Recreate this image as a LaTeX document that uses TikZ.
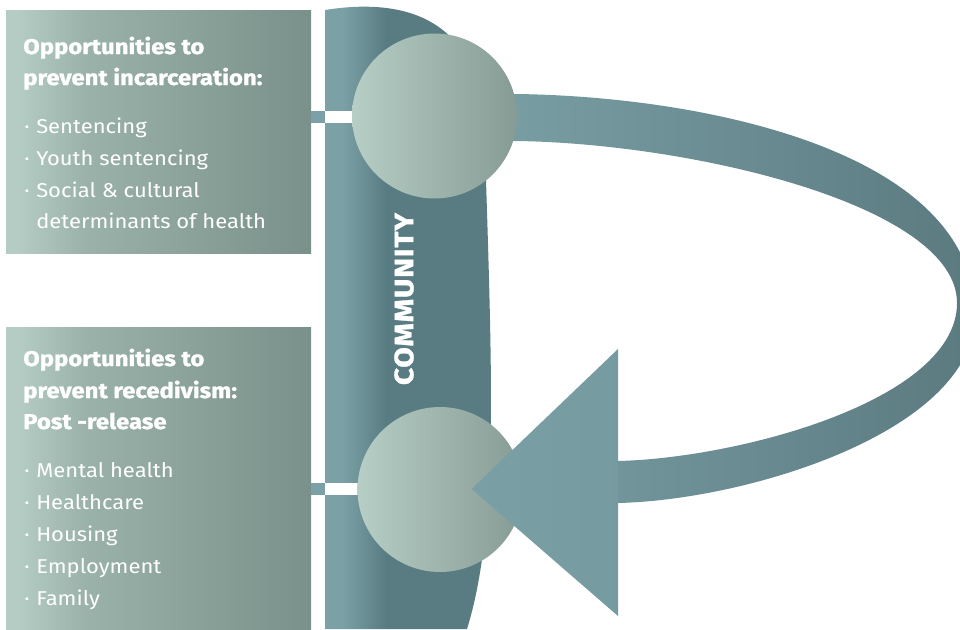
\documentclass[tikz,border=0pt]{standalone}
\usepackage{fontspec}
\setmainfont{Fira Sans}
\newfontfamily\lightfont{Fira Sans}[FakeStretch=1.1]
\newfontfamily\heavyfont{Fira Sans}[FakeStretch=1.12, BoldFeatures={FakeBold=1.2}]
\definecolor{boxL}{HTML}{B4CCC3}
\definecolor{boxM}{HTML}{9AB2AA}
\definecolor{boxD}{HTML}{7A908A}
\definecolor{barL}{HTML}{7BA1A7}
\definecolor{barD}{HTML}{587C82}
\definecolor{circL}{HTML}{B6CEC5}
\definecolor{circD}{HTML}{869B94}
\definecolor{bandL}{HTML}{7AA0A6}
\definecolor{bandD}{HTML}{5B7A80}
\pgfdeclarehorizontalshading{boxshade}{100bp}{color(0bp)=(boxL); color(27bp)=(boxL); color(38bp)=(boxM); color(75bp)=(boxD); color(100bp)=(boxD)}
\pgfdeclarehorizontalshading{barshade}{100bp}{color(0bp)=(barL); color(30bp)=(barL); color(43bp)=(barD); color(100bp)=(barD)}
\newcommand\itemdot{\makebox[9pt][l]{·}}
\tikzset{
  panel/.style={shading=boxshade, draw=none},
  disc/.style={circle, minimum size=123.75pt, inner sep=0pt, left color=circL, right color=circD, draw=none},
  head/.style={text=white, font=\heavyfont\bfseries\fontsize{16}{19}\selectfont, anchor=base west, inner sep=0pt},
  itemtxt/.style={text=white, font=\lightfont\fontsize{15}{18}\selectfont, anchor=base west, inner sep=0pt},
  gapteal/.style={fill=barL, draw=none},
  gapwhite/.style={fill=white, draw=none},
}
\begin{document}
\begin{tikzpicture}[x=0.75pt, y=-0.75pt]
\useasboundingbox (0,0) rectangle (960,629);
\fill[white] (0,0) rectangle (960,629);
% panels
\shade[panel] (6,10) rectangle (311,253);
\shade[panel] (6,327) rectangle (311,629);
% community bar
\shade[shading=barshade] (325,629) -- (325,10) .. controls (400,-2) and (475,15) .. (484,120)
  .. controls (490,300) and (494,420) .. (488,500) .. controls (484,560) and (476,600) .. (467,629) -- cycle;
% link strips
\fill[gapteal] (311,111) rectangle (325,123);
\fill[gapwhite] (325,111) rectangle (370,123);
\fill[gapteal] (311,483) rectangle (325,495);
\fill[gapwhite] (325,483) rectangle (375,495);
% loop band
\shade[left color=bandL, right color=bandD] (470,94) -- (515,94) .. controls (700,96) and (975,150) .. (975,315)
  .. controls (975,430) and (750,500) .. (618,503) -- (618,461)
  .. controls (740,458) and (957,400) .. (957,303)
  .. controls (957,205) and (690,143) .. (515,141) -- (470,141) -- cycle;
% circles
\node[disc] (c1) at (434.5,116) {};
\node[disc] (c2) at (440,489.5) {};
% arrow head
\shade[left color=bandL, right color=bandL!85!bandD] (471.7,489) -- (618,349) -- (618,616) -- cycle;
% community label
\node[rotate=90, text=white, font=\heavyfont\bfseries\fontsize{20}{24}\selectfont\addfontfeatures{LetterSpace=3}, inner sep=0pt] (comm) at (404,299) {COMMUNITY};
% top panel text
\node[head] (h1) at (23,54) {Opportunities to};
\node[head] (h2) at (23,85) {prevent incarceration:};
\node[itemtxt] (i1) at (24,133) {\itemdot Sentencing};
\node[itemtxt] (i2) at (24,165) {\itemdot Youth sentencing};
\node[itemtxt] (i3) at (24,197) {\itemdot Social \& cultural};
\node[itemtxt] (i4) at (36,228) {determinants of health};
% bottom panel text
\node[head] (h3) at (23,366) {Opportunities to};
\node[head] (h4) at (23,398) {prevent recedivism:};
\node[head] (h5) at (23,429) {Post -release};
\node[itemtxt] (j1) at (24,477) {\itemdot Mental health};
\node[itemtxt] (j2) at (24,509) {\itemdot Healthcare};
\node[itemtxt] (j3) at (24,541) {\itemdot Housing};
\node[itemtxt] (j4) at (24,573) {\itemdot Employment};
\node[itemtxt] (j5) at (24,605) {\itemdot Family};
\end{tikzpicture}
\end{document}
